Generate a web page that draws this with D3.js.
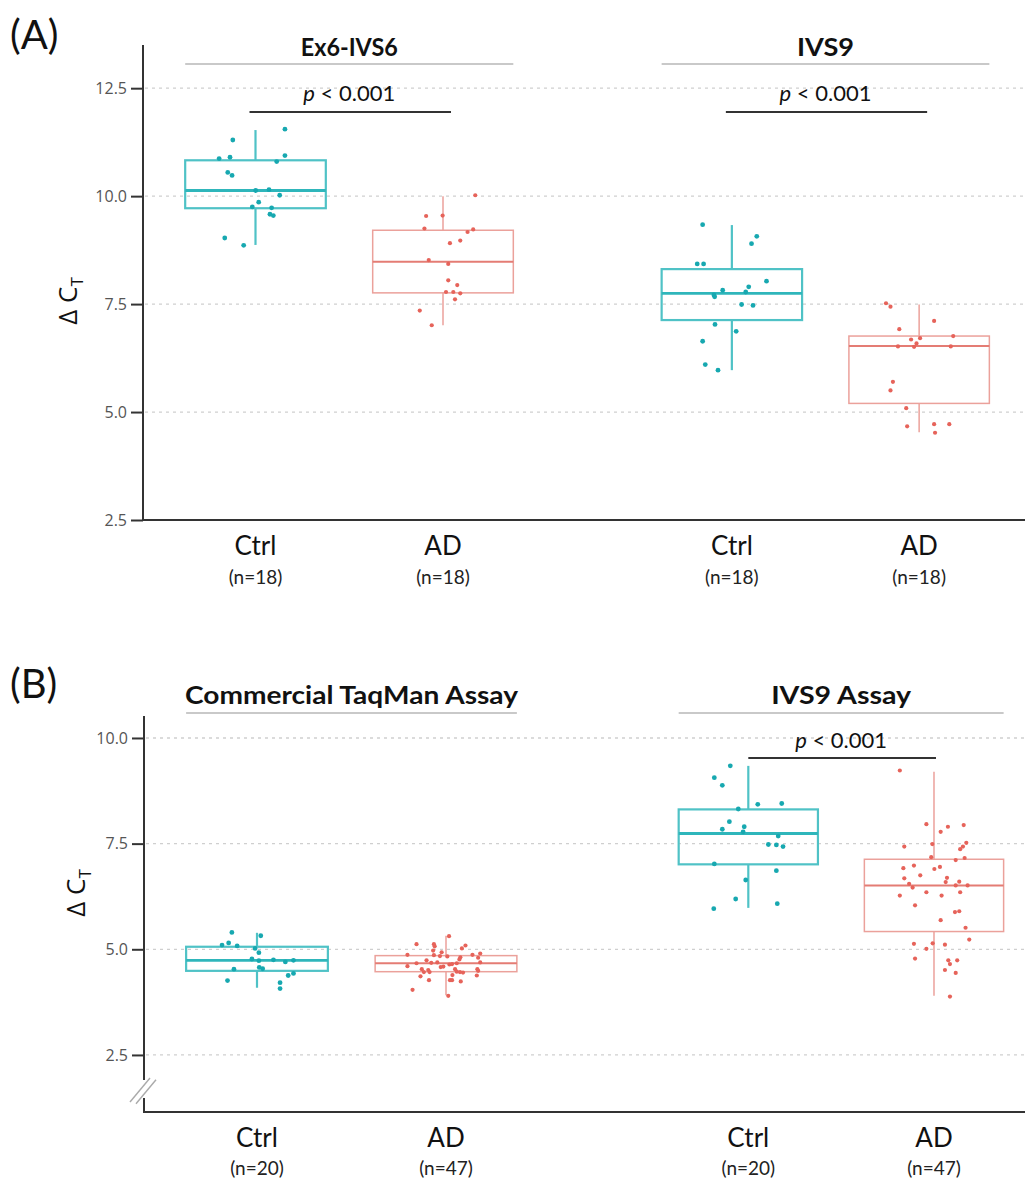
<!DOCTYPE html>
<html><head><meta charset="utf-8">
<script src="https://cdn.jsdelivr.net/npm/d3@7"></script>
<style>body{margin:0;background:#fff}</style>
</head><body><svg id="c" width="1032" height="1183"></svg>
<script>
// ---------- data ----------
const groups = ["Ctrl", "AD"];
const facetsA = ["Ex6-IVS6", "IVS9"];
const facetsB = ["Commercial TaqMan Assay", "IVS9 Assay"];
const nLabelsA = ["(n=18)", "(n=18)"];
const nLabelsB = ["(n=20)", "(n=47)"];
const yTicksA = [2.5, 5, 7.5, 10, 12.5];
const yTicksB = [2.5, 5, 7.5, 10];
const pText = "< 0.001";
const sigA = [true, true];
const sigB = [false, true];

// box stats: [lower whisker, Q1, median, Q3, upper whisker]
const boxA_ex6_ctrl = [8.87, 9.72, 10.13, 10.83, 11.53];
const boxA_ex6_ad   = [7.01, 7.76, 8.48, 9.21, 10.0];
const boxA_ivs9_ctrl = [5.97, 7.13, 7.75, 8.31, 9.33];
const boxA_ivs9_ad   = [4.53, 5.20, 6.53, 6.76, 7.49];
const boxB_taq_ctrl = [4.09, 4.49, 4.74, 5.06, 5.39];
const boxB_taq_ad   = [3.91, 4.47, 4.67, 4.85, 5.32];
const boxB_ivs9_ctrl = [5.98, 7.01, 7.74, 8.31, 9.34];
const boxB_ivs9_ad   = [3.90, 5.42, 6.51, 7.13, 9.20];

// individual ΔCT values
const valA_ex6_ctrl = [11.55,11.30,10.87,10.90,10.94,10.80,10.55,10.48,10.13,10.15,10.02,9.86,9.75,9.73,9.58,9.55,9.03,8.86];
const valA_ex6_ad = [10.02,9.54,9.55,9.25,9.17,9.23,8.91,8.97,8.52,8.43,8.05,7.94,7.78,7.78,7.75,7.61,7.35,7.01];
const valA_ivs9_ctrl = [9.34,9.07,8.90,8.43,8.43,8.03,7.90,7.82,7.78,7.71,7.67,7.49,7.47,7.03,6.87,6.64,6.10,5.97];
const valA_ivs9_ad = [7.52,7.44,7.11,6.92,6.76,6.68,6.71,6.59,6.52,6.51,6.52,5.70,5.50,5.09,4.67,4.72,4.72,4.52];
const valB_taq_ctrl = [5.40,5.32,5.10,5.15,5.08,5.02,4.92,4.77,4.73,4.75,4.70,4.74,4.53,4.57,4.54,4.38,4.43,4.26,4.21,4.07];
const valB_taq_ad = [5.31,5.12,5.12,5.07,5.09,5.02,4.97,4.93,4.87,4.86,4.84,4.83,4.81,4.87,4.90,4.80,4.74,4.76,4.67,4.68,4.69,4.69,4.64,4.65,4.67,4.60,4.59,4.53,4.51,4.46,4.46,4.53,4.47,4.46,4.53,4.49,4.58,4.38,4.36,4.39,4.27,4.27,4.27,4.24,4.04,3.90,4.45];
const valB_ivs9_ctrl = [9.34,9.06,8.88,8.43,8.45,8.32,8.02,7.90,7.84,7.78,7.68,7.48,7.47,7.43,7.02,6.86,6.64,6.19,6.08,5.96];
const valB_ivs9_ad = [9.23,7.96,7.78,7.90,7.94,7.49,7.52,7.43,7.37,7.43,7.18,7.11,7.16,6.92,6.98,6.90,6.95,6.75,6.68,6.69,6.59,6.60,6.55,6.46,6.51,6.51,6.27,6.35,6.27,6.35,6.04,5.88,5.90,5.69,5.51,5.23,5.13,5.14,5.11,5.01,4.78,4.74,4.74,4.65,4.51,4.44,3.88];

// horizontal jitter (fraction of category spacing)
const jitA_ex6_ctrl = [0.157,-0.121,-0.194,-0.136,0.157,0.113,-0.148,-0.125,0.001,0.072,0.129,0.017,-0.017,0.086,0.077,0.095,-0.164,-0.063];
const jitA_ex6_ad = [0.172,-0.090,-0.002,-0.099,0.131,0.161,0.037,0.092,-0.076,0.028,0.028,0.076,0.016,0.055,0.092,0.064,-0.124,-0.060];
const jitA_ivs9_ctrl = [-0.156,0.133,0.105,-0.185,-0.151,0.185,0.090,-0.049,0.074,-0.096,-0.092,0.052,0.113,-0.090,0.023,-0.156,-0.142,-0.074];
const jitA_ivs9_ad = [-0.177,-0.153,0.080,-0.106,0.182,-0.043,0.005,-0.014,-0.113,-0.027,0.169,-0.140,-0.153,-0.069,-0.064,0.080,0.161,0.085];
const jitB_taq_ctrl = [-0.133,0.020,-0.185,-0.150,-0.105,-0.010,0.010,-0.027,0.010,0.087,0.150,0.193,-0.122,0.012,0.030,0.165,0.193,-0.156,0.122,0.122];
const jitB_taq_ad = [0.016,-0.156,-0.064,-0.060,0.103,0.084,-0.068,-0.023,-0.204,-0.064,-0.032,0.007,0.076,0.140,0.181,0.170,-0.103,0.071,-0.156,-0.078,-0.046,0.181,0.018,0.032,0.057,-0.204,-0.014,-0.128,-0.094,-0.117,-0.087,0.048,0.057,0.074,0.166,0.170,-0.028,0.163,-0.135,0.034,-0.090,0.021,0.032,0.078,-0.177,0.012,0.090];
const jitB_ivs9_ctrl = [-0.097,-0.183,-0.140,0.051,0.180,-0.054,-0.102,-0.022,-0.140,-0.028,0.161,0.108,0.151,0.187,-0.183,0.151,-0.014,-0.068,0.156,-0.186];
const jitB_ivs9_ad = [-0.184,-0.041,0.036,0.075,0.160,-0.009,0.174,0.156,0.141,-0.160,-0.015,0.117,0.165,-0.165,-0.108,0.002,0.032,-0.074,-0.160,0.070,0.063,0.136,-0.134,-0.115,0.117,0.181,-0.184,-0.041,0.041,0.141,-0.102,0.113,0.136,0.036,0.170,0.190,-0.108,-0.007,0.059,-0.041,-0.102,0.077,0.125,0.086,0.059,0.117,0.086];

// ---------- styling ----------
const colCtrl = {pt: "#17a8b0", box: "#4fc2c6", med: "#2fb6bb", bw: 2.2};
const colAD = {pt: "#e6635a", box: "#eba19b", med: "#e47c74", bw: 1.5};
const cols = [colCtrl, colAD];
const svg = d3.select("#c");

function drawPanel(cfg) {
  const g = svg.append("g");
  const y = d3.scaleLinear().domain(cfg.yDomain).range(cfg.yRange);
  // gridlines
  g.selectAll("line.grid").data(cfg.yTicks.filter(t => y(t) < cfg.axisBottom - 2))
    .enter().append("line")
    .attr("x1", cfg.axisX + 2).attr("x2", cfg.right)
    .attr("y1", d => y(d)).attr("y2", d => y(d))
    .attr("stroke", "#cfcfcf").attr("stroke-width", 1.3).attr("stroke-dasharray", "3,4");

  cfg.facets.forEach((fname, fi) => {
    const x = d3.scalePoint().domain(groups).range(cfg.facetRanges[fi]).padding(0.6);
    const step = x.step();
    const bw = step * 0.75;
    const fg = g.append("g");
    // strip
    const sx0 = x(groups[0]) - bw / 2, sx1 = x(groups[1]) + bw / 2;
    fg.append("line").attr("x1", sx0).attr("x2", sx1).attr("y1", cfg.stripY).attr("y2", cfg.stripY)
      .attr("stroke", "#c9c9c9").attr("stroke-width", 2);
    fg.append("text").attr("x", (sx0 + sx1) / 2).attr("y", cfg.stripTextY)
      .attr("text-anchor", "middle").attr("font-family", "Lato, sans-serif")
      .attr("font-weight", "bold").attr("font-size", 25).attr("fill", "#111")
      .attr("textLength", cfg.stripWidths[fi]).attr("lengthAdjust", "spacingAndGlyphs")
      .text(fname);
    // boxes
    groups.forEach((grp, gi) => {
      const b = cfg.boxes[fi][gi];
      const c = cols[gi];
      const cx = x(grp);
      fg.append("line").attr("x1", cx).attr("x2", cx).attr("y1", y(b[3])).attr("y2", y(b[4]))
        .attr("stroke", c.box).attr("stroke-width", c.bw);
      fg.append("line").attr("x1", cx).attr("x2", cx).attr("y1", y(b[1])).attr("y2", y(b[0]))
        .attr("stroke", c.box).attr("stroke-width", c.bw);
      fg.append("rect").attr("x", cx - bw / 2).attr("width", bw)
        .attr("y", y(b[3])).attr("height", y(b[1]) - y(b[3]))
        .attr("fill", "none").attr("stroke", c.box).attr("stroke-width", c.bw);
      fg.append("line").attr("x1", cx - bw / 2).attr("x2", cx + bw / 2).attr("y1", y(b[2])).attr("y2", y(b[2]))
        .attr("stroke", c.med).attr("stroke-width", c.bw + 0.6);
      // points
      const vals = cfg.values[fi][gi], jit = cfg.jitter[fi][gi];
      fg.selectAll(null).data(vals.map((v, i) => ({v, j: jit[i]}))).enter().append("circle")
        .attr("cx", d => cx + d.j * step).attr("cy", d => y(d.v))
        .attr("r", gi === 0 ? 2.4 : 2.1).attr("fill", c.pt);
      // x labels
      fg.append("text").attr("x", cx).attr("y", cfg.labelY).attr("text-anchor", "middle")
        .attr("font-family", "Lato, sans-serif").attr("font-size", 26).attr("fill", "#111").text(grp);
      fg.append("text").attr("x", cx).attr("y", cfg.nY).attr("text-anchor", "middle")
        .attr("font-family", "Lato, sans-serif").attr("font-size", 19).attr("fill", "#222").text(cfg.nLabels[gi]);
    });
    // significance
    if (cfg.sig[fi]) {
      fg.append("line").attr("x1", x(groups[0]) + cfg.pPad[0]).attr("x2", x(groups[1]) + cfg.pPad[1])
        .attr("y1", cfg.pLineY).attr("y2", cfg.pLineY).attr("stroke", "#333").attr("stroke-width", 2.2);
      const t = fg.append("text").attr("x", (x(groups[0]) + x(groups[1])) / 2).attr("y", cfg.pTextY)
        .attr("text-anchor", "middle").attr("font-family", "Lato, sans-serif").attr("font-size", 22).attr("fill", "#111");
      t.append("tspan").attr("font-style", "italic").text("p");
      t.append("tspan").text(" " + pText);
    }
  });

  // y axis ticks
  const ax = d3.axisLeft(y).tickValues(cfg.yTicks).tickFormat(d3.format(".1f")).tickSize(12).tickPadding(4);
  const ag = g.append("g").attr("transform", `translate(${cfg.axisX},0)`).call(ax);
  ag.select(".domain").remove();
  ag.selectAll(".tick line").attr("stroke", "#333").attr("stroke-width", 2);
  ag.selectAll(".tick text").attr("font-family", "'Open Sans', sans-serif").attr("font-size", 16).attr("fill", "#555");

  // axis lines
  if (cfg.breakY) {
    g.append("line").attr("x1", cfg.axisX).attr("x2", cfg.axisX).attr("y1", cfg.axisTop).attr("y2", cfg.breakY[0])
      .attr("stroke", "#333").attr("stroke-width", 2);
    g.append("line").attr("x1", cfg.axisX).attr("x2", cfg.axisX).attr("y1", cfg.breakY[1]).attr("y2", cfg.axisBottom)
      .attr("stroke", "#333").attr("stroke-width", 2);
    [0, 6].forEach(o => {
      g.append("line").attr("x1", cfg.axisX - 14 + o).attr("y1", cfg.breakY[1] + 4 + o * 0.3)
        .attr("x2", cfg.axisX + 6 + o).attr("y2", cfg.breakY[0] + o * 0.3 - 2)
        .attr("stroke", "#aaa").attr("stroke-width", 1.4);
    });
  } else {
    g.append("line").attr("x1", cfg.axisX).attr("x2", cfg.axisX).attr("y1", cfg.axisTop).attr("y2", cfg.axisBottom)
      .attr("stroke", "#333").attr("stroke-width", 2);
  }
  g.append("line").attr("x1", cfg.axisX - 1).attr("x2", cfg.right).attr("y1", cfg.axisBottom).attr("y2", cfg.axisBottom)
    .attr("stroke", "#333").attr("stroke-width", 2);

  // y title
  const yt = g.append("text").attr("transform", `translate(${cfg.yTitleX},${cfg.yTitleY}) rotate(-90)`)
    .attr("text-anchor", "middle").attr("font-family", "'Open Sans', sans-serif").attr("font-size", 26).attr("fill", "#111");
  yt.append("tspan").text("Δ C");
  yt.append("tspan").attr("font-size", 17).attr("dy", 6).text("T");

  // panel letter
  g.append("text").attr("x", cfg.letterX).attr("y", cfg.letterY).attr("font-family", "Lato, sans-serif")
    .attr("font-size", 40).attr("fill", "#111").text(cfg.letter);
}

drawPanel({
  letter: "(A)", letterX: 10, letterY: 49,
  yDomain: [2.5, 13.5], yRange: [520, 45], yTicks: yTicksA,
  axisX: 143, axisTop: 45, axisBottom: 520, right: 1025,
  facets: facetsA, facetRanges: [[143, 555.5], [619.5, 1031.5]],
  boxes: [[boxA_ex6_ctrl, boxA_ex6_ad], [boxA_ivs9_ctrl, boxA_ivs9_ad]],
  values: [[valA_ex6_ctrl, valA_ex6_ad], [valA_ivs9_ctrl, valA_ivs9_ad]],
  jitter: [[jitA_ex6_ctrl, jitA_ex6_ad], [jitA_ivs9_ctrl, jitA_ivs9_ad]],
  nLabels: nLabelsA, sig: sigA,
  stripY: 64, stripTextY: 56, stripWidths: [97, 57],
  pLineY: 112, pTextY: 101, pPad: [-6, 8],
  labelY: 555, nY: 584,
  yTitleX: 77, yTitleY: 301
});

drawPanel({
  letter: "(B)", letterX: 10, letterY: 698,
  yDomain: [1.15, 10.52], yRange: [1112, 716], yTicks: yTicksB,
  axisX: 144, axisTop: 716, axisBottom: 1112, right: 1025, breakY: [1080, 1098],
  facets: facetsB, facetRanges: [[143.6, 559.4], [636.9, 1045.4]],
  boxes: [[boxB_taq_ctrl, boxB_taq_ad], [boxB_ivs9_ctrl, boxB_ivs9_ad]],
  values: [[valB_taq_ctrl, valB_taq_ad], [valB_ivs9_ctrl, valB_ivs9_ad]],
  jitter: [[jitB_taq_ctrl, jitB_taq_ad], [jitB_ivs9_ctrl, jitB_ivs9_ad]],
  nLabels: nLabelsB, sig: sigB,
  stripY: 713, stripTextY: 704, stripWidths: [333, 140],
  pLineY: 758, pTextY: 748, pPad: [0, 2],
  labelY: 1147, nY: 1175,
  yTitleX: 85, yTitleY: 893
});
</script></body></html>
